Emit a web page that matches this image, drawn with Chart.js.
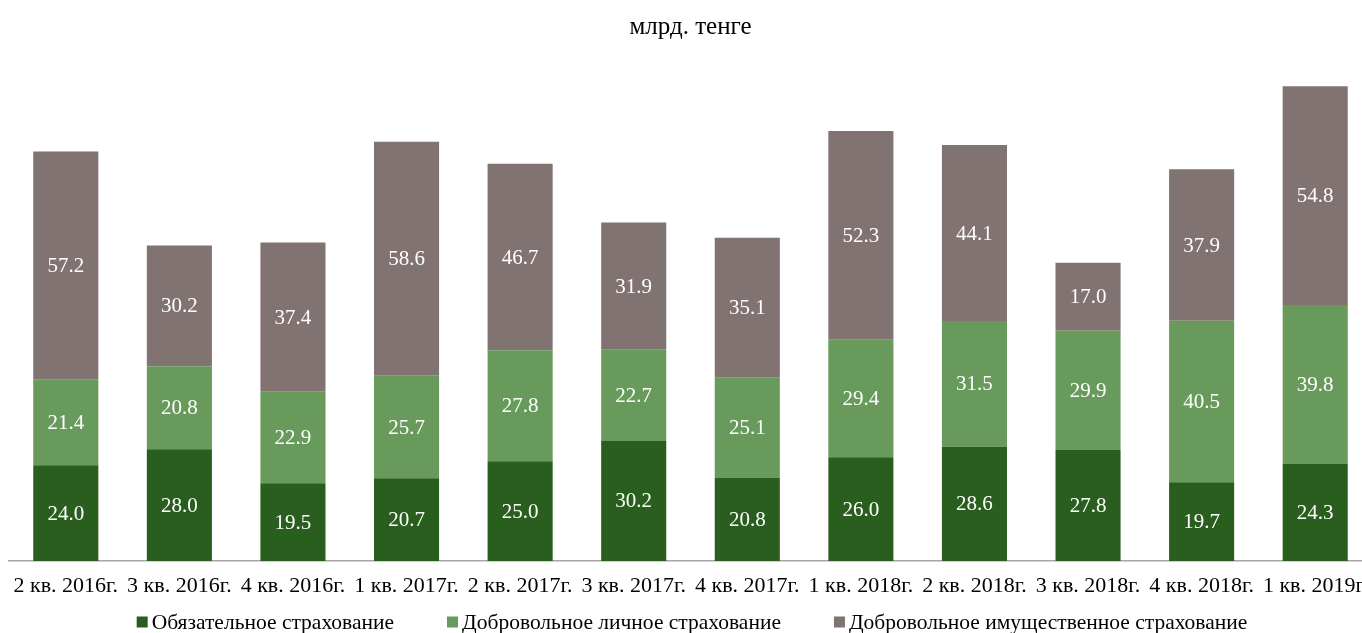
<!DOCTYPE html>
<html>
<head>
<meta charset="utf-8">
<script src="https://cdn.jsdelivr.net/npm/chart.js@4/dist/chart.umd.min.js"></script>
<style>
  html, body { margin: 0; padding: 0; background: #fff; overflow: hidden; }
  #wrap { position: absolute; left: 0; top: 0; width: 1380px; height: 633px; }
</style>
</head>
<body>
<div id="wrap"><canvas id="c"></canvas></div>
<script>
const categories = ["2 кв. 2016г.", "3 кв. 2016г.", "4 кв. 2016г.", "1 кв. 2017г.", "2 кв. 2017г.", "3 кв. 2017г.", "4 кв. 2017г.", "1 кв. 2018г.", "2 кв. 2018г.", "3 кв. 2018г.", "4 кв. 2018г.", "1 кв. 2019г."];
const mandatory = [24.0, 28.0, 19.5, 20.7, 25.0, 30.2, 20.8, 26.0, 28.6, 27.8, 19.7, 24.3];
const voluntaryPersonal = [21.4, 20.8, 22.9, 25.7, 27.8, 22.7, 25.1, 29.4, 31.5, 29.9, 40.5, 39.8];
const voluntaryProperty = [57.2, 30.2, 37.4, 58.6, 46.7, 31.9, 35.1, 52.3, 44.1, 17.0, 37.9, 54.8];
const seriesNames = ["Обязательное страхование", "Добровольное личное страхование", "Добровольное имущественное страхование"];
const seriesColors = ['#2a5e1e', '#679a5b', '#807371'];
const titleText = "млрд. тенге";

const FONT = "'Liberation Serif', 'Times New Roman', serif";

const segmentLabels = {
  id: 'segmentLabels',
  afterDatasetsDraw(chart) {
    const ctx = chart.ctx;
    ctx.save();
    ctx.fillStyle = '#ffffff';
    ctx.font = "21px " + FONT;
    ctx.textAlign = 'center';
    ctx.textBaseline = 'middle';
    chart.data.datasets.forEach((ds, di) => {
      const meta = chart.getDatasetMeta(di);
      meta.data.forEach((bar, i) => {
        const v = ds.data[i];
        const y = (bar.y + bar.base) / 2;
        ctx.fillText(v.toFixed(1), bar.x, y + 1);
      });
    });
    ctx.restore();
  }
};

const bottomLegend = {
  id: 'bottomLegend',
  afterDraw(chart) {
    const ctx = chart.ctx;
    ctx.save();
    ctx.font = "21.5px " + FONT;
    ctx.textBaseline = 'middle';
    ctx.textAlign = 'left';
    const box = 11, gapText = 4, gapItem = 53;
    const ds = chart.data.datasets;
    const widths = ds.map(d => box + gapText + ctx.measureText(d.label).width);
    const total = widths.reduce((a, b) => a + b, 0) + gapItem * (ds.length - 1);
    let x = 692 - total / 2;
    const cy = 623;
    ds.forEach((d, i) => {
      ctx.fillStyle = d.backgroundColor;
      ctx.fillRect(x, cy - box / 2 - 1, box, box);
      ctx.fillStyle = '#000';
      ctx.fillText(d.label, x + box + gapText, cy);
      x += widths[i] + gapItem;
    });
    ctx.restore();
  }
};

new Chart(document.getElementById('c'), {
  type: 'bar',
  data: {
    labels: categories,
    datasets: [
      { label: seriesNames[0], data: mandatory, backgroundColor: seriesColors[0] },
      { label: seriesNames[1], data: voluntaryPersonal, backgroundColor: seriesColors[1] },
      { label: seriesNames[2], data: voluntaryProperty, backgroundColor: seriesColors[2] }
    ]
  },
  options: {
    responsive: true,
    maintainAspectRatio: false,
    animation: false,
    layout: { padding: { left: 9, right: 8, top: 3, bottom: 21.6 } },
    datasets: { bar: { barPercentage: 0.573, categoryPercentage: 1.0, borderWidth: 0 } },
    scales: {
      x: {
        stacked: true,
        grid: { display: false, drawTicks: false },
        border: { display: true, color: '#a6a6a6', width: 1.5 },
        ticks: { color: '#000', font: { family: FONT, size: 22 }, padding: 12, maxRotation: 0, autoSkip: false }
      },
      y: {
        stacked: true,
        display: false,
        min: 0,
        max: 127.5
      }
    },
    plugins: {
      title: {
        display: true,
        text: titleText,
        color: '#000',
        font: { family: FONT, size: 25, weight: 'normal' },
        padding: { top: 9, bottom: 10 }
      },
      legend: { display: false },
      tooltip: { enabled: false }
    }
  },
  plugins: [segmentLabels, bottomLegend]
});
</script>
</body>
</html>
